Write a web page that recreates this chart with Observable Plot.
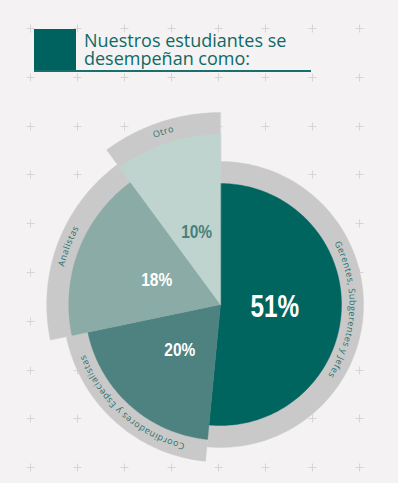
<!DOCTYPE html>
<html>
<head>
<meta charset="utf-8">
<script src="https://cdn.jsdelivr.net/npm/d3@7"></script>
<script src="https://cdn.jsdelivr.net/npm/@observablehq/plot@0.6"></script>
<style>
html, body { margin: 0; padding: 0; }
body {
  width: 398px; height: 483px; overflow: hidden;
  background-color: #f4f2f3;
  background-image: url("data:image/svg+xml,%3Csvg xmlns='http://www.w3.org/2000/svg' width='47' height='48.8'%3E%3Cpath d='M19.5 24.5h8M23.5 20.5v8' stroke='%23d6d4d5' stroke-width='1' fill='none'/%3E%3C/svg%3E");
  background-size: 47px 48.8px;
  background-position: 6.5px 4.1px;
  font-family: "Open Sans", sans-serif;
}
#header { position: relative; height: 80px; }
#sq { position: absolute; left: 34px; top: 29px; width: 42px; height: 42px; background: #00625e; }
#title { position: absolute; left: 84px; top: 30.5px; margin: 0; font-size: 18px; line-height: 18px; font-weight: 500; color: #0f6a66; white-space: nowrap; }
#rule { position: absolute; left: 34px; top: 70px; width: 277px; height: 2px; background: #17706b; }
#chart svg { display: block; }
</style>
</head>
<body>
<div id="header">
  <div id="sq"></div>
  <h1 id="title">Nuestros estudiantes se<br>desempeñan como:</h1>
  <div id="rule"></div>
</div>
<div id="chart"></div>
<script>
// ---- data ----
const categories = ["Gerentes, Subgerentes y Jefes", "Coordinadores y Especialistas", "Analistas", "Otro"];
const values = [51, 20, 18, 10];
const valueLabels = ["51%", "20%", "18%", "10%"];

// ---- styles ----
const palette = ["#00645f", "#4e8280", "#8aaba6", "#bfd4cf"];
const pctColors = ["#ffffff", "#ffffff", "#ffffff", "#4b7f7b"];
const RING = "#c9c9c9";
const LABEL = "#2a716d";
const R0 = 121, STEP = 1.12, BAND = 22;

const total = d3.sum(values);
let acc = 0;
const segs = values.map((v, i) => {
  const a0 = acc / total * 360; acc += v; const a1 = acc / total * 360;
  return {i, cat: categories[i], value: v, label: valueLabels[i], a0, a1, mid: (a0 + a1) / 2, r: R0 * Math.pow(STEP, i)};
});

const rad = d => d * Math.PI / 180;
const pt = (a, r) => ({x: r * Math.sin(rad(a)), y: r * Math.cos(rad(a))});
function sector(s, r) {
  const pts = [{...pt(0, 0)}];
  const n = Math.max(2, Math.ceil(s.a1 - s.a0));
  for (let j = 0; j <= n; j++) pts.push(pt(s.a0 + (s.a1 - s.a0) * j / n, r));
  return pts;
}

const marks = [];
segs.forEach(s => marks.push(Plot.line(sector(s, s.r + BAND), {x: "x", y: "y", fill: RING, stroke: RING, strokeWidth: 0.4, curve: "linear-closed"})));
segs.forEach(s => marks.push(Plot.line(sector(s, s.r), {x: "x", y: "y", fill: palette[s.i], stroke: palette[s.i], strokeWidth: 0.4, curve: "linear-closed"})));

const pos = s => pt(s.mid, 0.45 * s.r);
const pctFont = "'Liberation Sans Narrow','Liberation Sans',Arial,sans-serif";
marks.push(Plot.text(segs.filter(s => s.i === 0), {x: s => pos(s).x, y: s => pos(s).y, text: "label", fill: s => pctColors[s.i], fontSize: 32, fontWeight: "bold", fontFamily: pctFont, lineAnchor: "middle"}));
marks.push(Plot.text(segs.filter(s => s.i > 0), {x: s => pos(s).x, y: s => pos(s).y, text: "label", fill: s => pctColors[s.i], fontSize: 18, fontWeight: "bold", fontFamily: pctFont, lineAnchor: "middle"}));

const chart = Plot.plot({
  width: 398, height: 403, margin: 0,
  style: {background: "transparent", overflow: "visible"},
  x: {type: "linear", domain: [-220, 178], range: [0, 398], axis: null},
  y: {type: "linear", domain: [-179, 224], range: [403, 0], axis: null},
  color: {type: "identity"},
  marks
});
document.getElementById("chart").append(chart);

// condensed look for the percentage numbers
d3.select(chart).selectAll("g[aria-label='text'] text").each(function () {
  const L = this.getComputedTextLength();
  const fs = parseFloat(getComputedStyle(this).fontSize);
  d3.select(this).attr("textLength", L * (fs > 24 ? 0.76 : 0.86)).attr("lengthAdjust", "spacingAndGlyphs");
});

// curved category labels along the grey bands, via the plot's scales
const sx = chart.scale("x"), sy = chart.scale("y");
const X = d3.scaleLinear(sx.domain, sx.range), Y = d3.scaleLinear(sy.domain, sy.range);
const svg = d3.select(chart);
const defs = svg.append("defs");
segs.forEach(s => {
  const m = s.r + 8.5;
  const p0 = pt(s.a0, m), p1 = pt(s.a1, m);
  const pr = X(m) - X(0);
  const large = (s.a1 - s.a0) > 180 ? 1 : 0;
  defs.append("path").attr("id", "lab" + s.i)
    .attr("d", `M${X(p0.x)},${Y(p0.y)}A${pr},${pr} 0 ${large} 1 ${X(p1.x)},${Y(p1.y)}`);
  svg.append("text")
    .attr("font-family", "'Open Sans', sans-serif").attr("font-size", 9)
    .attr("letter-spacing", "0.5").attr("fill", LABEL)
    .append("textPath").attr("href", "#lab" + s.i)
    .attr("startOffset", "50%").attr("text-anchor", "middle")
    .text(s.cat);
});
</script>
</body>
</html>
